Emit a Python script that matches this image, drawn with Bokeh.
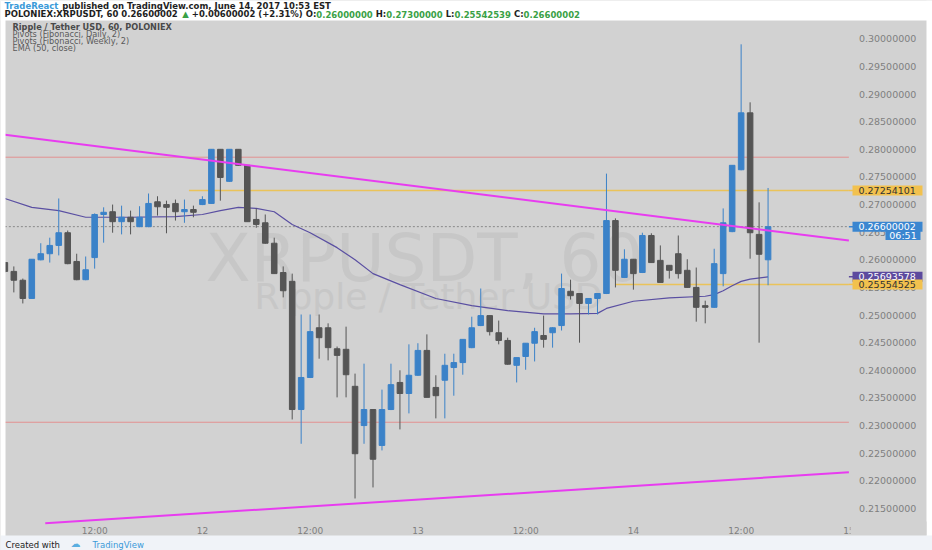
from bokeh.plotting import figure
from bokeh.models import ColumnDataSource, Label, Range1d, BoxAnnotation
from bokeh.embed import file_html
from bokeh.resources import INLINE
from bokeh.core.properties import value

# ---------------- data (hours relative to 12 June 00:00) ----------------
hours = list(range(-22, 64))
opens = [0.2595, 0.2579, 0.2563, 0.2530, 0.2600, 0.2611, 0.2626, 0.2649, 0.2597, 0.2564,
         0.2604, 0.2682, 0.2687, 0.2669, 0.2677, 0.2660, 0.2660, 0.2705, 0.2700, 0.2702,
         0.2687, 0.2691, 0.2700, 0.2702, 0.2800, 0.2742, 0.2800, 0.2771, 0.2673, 0.2667,
         0.2630, 0.2577, 0.2561, 0.2329, 0.2387, 0.2477, 0.2477, 0.2439, 0.2438, 0.2371,
         0.2300, 0.2329, 0.2264, 0.2329, 0.2378, 0.2358, 0.2391, 0.2436, 0.2369, 0.2382,
         0.2405, 0.2414, 0.2441, 0.2481, 0.2499, 0.2468, 0.2454, 0.2409, 0.2425, 0.2449,
         0.2463, 0.2468, 0.2481, 0.2543, 0.2539, 0.2521, 0.2530, 0.2539, 0.2671, 0.2568,
         0.2601, 0.2577, 0.2644, 0.2599, 0.2590, 0.2611, 0.2581, 0.2550, 0.2517, 0.2514,
         0.2575, 0.2651, 0.2763, 0.2866, 0.2646, 0.2600]
highs = [0.2595, 0.2588, 0.2566, 0.2601, 0.2630, 0.2640, 0.2711, 0.2653, 0.2611, 0.2606,
         0.2684, 0.2695, 0.2700, 0.2698, 0.2689, 0.2697, 0.2720, 0.2715, 0.2707, 0.2709,
         0.2709, 0.2698, 0.2715, 0.2800, 0.2800, 0.2800, 0.2800, 0.2771, 0.2693, 0.2682,
         0.2640, 0.2588, 0.2575, 0.2501, 0.2501, 0.2501, 0.2485, 0.2443, 0.2479, 0.2394,
         0.2412, 0.2329, 0.2365, 0.2412, 0.2400, 0.2447, 0.2449, 0.2465, 0.2391, 0.2430,
         0.2430, 0.2456, 0.2497, 0.2548, 0.2499, 0.2490, 0.2459, 0.2423, 0.2449, 0.2477,
         0.2499, 0.2478, 0.2575, 0.2564, 0.2539, 0.2530, 0.2539, 0.2756, 0.2675, 0.2619,
         0.2601, 0.2649, 0.2648, 0.2626, 0.2590, 0.2644, 0.2601, 0.2586, 0.2526, 0.2620,
         0.2693, 0.2771, 0.2990, 0.2885, 0.2704, 0.2730]
lows = [0.2577, 0.2541, 0.2521, 0.2530, 0.2599, 0.2595, 0.2608, 0.2592, 0.2563, 0.2563,
        0.2584, 0.2631, 0.2649, 0.2646, 0.2646, 0.2659, 0.2659, 0.2680, 0.2648, 0.2671,
        0.2667, 0.2677, 0.2699, 0.2701, 0.2707, 0.2741, 0.2770, 0.2669, 0.2658, 0.2629,
        0.2575, 0.2532, 0.2311, 0.2267, 0.2386, 0.2421, 0.2418, 0.2351, 0.2351, 0.2168,
        0.2267, 0.2188, 0.2255, 0.2328, 0.2293, 0.2322, 0.2390, 0.2351, 0.2313, 0.2313,
        0.2354, 0.2392, 0.2440, 0.2480, 0.2463, 0.2447, 0.2410, 0.2378, 0.2401, 0.2416,
        0.2441, 0.2441, 0.2472, 0.2528, 0.2450, 0.2501, 0.2501, 0.2538, 0.2550, 0.2567,
        0.2546, 0.2576, 0.2595, 0.2559, 0.2566, 0.2566, 0.2549, 0.2488, 0.2485, 0.2513,
        0.2552, 0.2650, 0.2762, 0.2602, 0.2450, 0.2554]
closes = [0.2579, 0.2563, 0.2530, 0.2601, 0.2611, 0.2626, 0.2649, 0.2593, 0.2564, 0.2582,
          0.2682, 0.2686, 0.2669, 0.2677, 0.2669, 0.2677, 0.2702, 0.2696, 0.2695, 0.2687,
          0.2691, 0.2686, 0.2709, 0.2800, 0.2749, 0.2800, 0.2771, 0.2669, 0.2664, 0.2630,
          0.2575, 0.2544, 0.2329, 0.2387, 0.2470, 0.2459, 0.2441, 0.2427, 0.2392, 0.2249,
          0.2329, 0.2239, 0.2329, 0.2374, 0.2358, 0.2391, 0.2436, 0.2351, 0.2354, 0.2409,
          0.2414, 0.2456, 0.2477, 0.2499, 0.2470, 0.2454, 0.2411, 0.2423, 0.2449, 0.2470,
          0.2456, 0.2477, 0.2548, 0.2535, 0.2521, 0.2530, 0.2539, 0.2671, 0.2581, 0.2601,
          0.2575, 0.2644, 0.2595, 0.2559, 0.2581, 0.2575, 0.2550, 0.2514, 0.2514, 0.2593,
          0.2667, 0.2771, 0.2866, 0.2649, 0.2610, 0.2660]

ema_hours = [-22, -19, -16, -13, -8, -3, 0, 2, 4, 6, 8, 10, 12, 15, 17, 19, 22, 26, 30,
             34, 38, 41, 44, 45, 48, 52, 56, 57, 58, 59, 60, 61, 63]
ema_vals = [0.2711, 0.2695, 0.2689, 0.2677, 0.2677, 0.2678, 0.2682, 0.2689, 0.2695, 0.2693,
            0.2687, 0.2664, 0.2649, 0.2622, 0.2600, 0.2575, 0.2555, 0.2530, 0.2517, 0.2508,
            0.2502, 0.2502, 0.2503, 0.2512, 0.2525, 0.2531, 0.2534, 0.2537, 0.2544, 0.2553,
            0.2561, 0.2565, 0.2569]

trend_upper_h = [-22.0, 72.0]
trend_upper_p = [0.28262, 0.26349]
trend_lower_h = [-17.5, 72.0]
trend_lower_p = [0.21233, 0.22153]

red_levels = [0.27857, 0.23060]
pivot_levels = [0.27254101, 0.25554525]
pivot_start = [-1.5, 46.0]
last_price = 0.26600002
ema_last = 0.25693578
countdown = "06:51"

price_ticks = [0.215, 0.220, 0.225, 0.230, 0.235, 0.240, 0.245, 0.250, 0.255,
               0.260, 0.265, 0.270, 0.275, 0.280, 0.285, 0.290, 0.295, 0.300]
time_ticks = [-12, 0, 12, 24, 36, 48, 60, 72]
time_labels = ["12:00", "12", "12:00", "13", "12:00", "14", "12:00", "15"]

# ---------------- page geometry (px) ----------------
W, H = 932, 550
PX_PER_H = 8.979        # px per hour
X_OF_H0 = 201.9         # page x of hour 0
PX_PER_P = 5525.0       # px per price unit
Y_OF_030 = 38.3         # page y of price 0.30
X0 = -X_OF_H0 / PX_PER_H
X1 = (W - X_OF_H0) / PX_PER_H
P_HI = 0.30 + Y_OF_030 / PX_PER_P
P_LO = 0.30 - (H - Y_OF_030) / PX_PER_P
CHART_START, CHART_END = -22.0, 72.0


def hx(ax):
    return X0 + ax / PX_PER_H


def py(ay):
    return P_HI - ay / PX_PER_P


def sy(ay):
    return H - ay


BG = "#d2d2d2"
UP = "#3b82c8"
DOWN = "#555555"
FONT = "DejaVu Sans"
GREEN = "#3aa146"
BLUE_TXT = "#3a9ad9"

BOLD_W = {' ': 0.348, '.': 0.380, ',': 0.380, ':': 0.400, '%': 1.002, '(': 0.457,
          ')': 0.457, '+': 0.838, '\u25b2': 0.769,
          'C': 0.734, 'D': 0.830, 'E': 0.683, 'H': 0.837, 'I': 0.372, 'L': 0.637,
          'N': 0.837, 'O': 0.850, 'P': 0.733, 'R': 0.770, 'S': 0.720, 'T': 0.682,
          'U': 0.812, 'X': 0.773, 'a': 0.675, 'c': 0.593, 'd': 0.716, 'e': 0.678,
          't': 0.478, 'r': 0.493}
for dgt in "0123456789":
    BOLD_W[dgt] = 0.696


def bold_width(s, size):
    return sum(BOLD_W.get(ch, 0.68) for ch in s) * size


colors = [UP if c >= o else DOWN for o, c in zip(opens, closes)]
src = ColumnDataSource(dict(
    h=hours, low=lows, high=highs,
    top=[max(o, c) for o, c in zip(opens, closes)],
    bottom=[min(o, c) for o, c in zip(opens, closes)],
    color=colors))

p = figure(width=W, height=H, x_range=Range1d(X0, X1), y_range=Range1d(P_LO, P_HI),
           output_backend="svg", toolbar_location=None,
           x_axis_location=None, y_axis_location=None,
           min_border=0, min_border_left=0, min_border_right=0,
           min_border_top=0, min_border_bottom=0)
p.background_fill_color = BG
p.border_fill_color = BG
p.outline_line_color = None
p.grid.visible = False

# watermark
p.add_layout(Label(x=424, y=sy(258), x_units="screen", y_units="screen", text="XRPUSDT, 60",
                   text_font=FONT, text_font_size="66px", text_color="#c7c7c7",
                   text_align="center", text_baseline="middle", level="underlay"))
p.add_layout(Label(x=428, y=sy(296), x_units="screen", y_units="screen",
                   text="Ripple / Tether USD",
                   text_font=FONT, text_font_size="36px", text_color="#c7c7c7",
                   text_align="center", text_baseline="middle", level="underlay"))

# horizontal levels
n_red = len(red_levels)
p.segment(x0=[CHART_START] * n_red, x1=[CHART_END] * n_red, y0=red_levels, y1=red_levels,
          line_color="#e39090", line_width=1)
p.segment(x0=pivot_start, x1=[CHART_END] * len(pivot_levels), y0=pivot_levels,
          y1=pivot_levels, line_color="#eac35a", line_width=1.5)
p.segment(x0=[CHART_START], x1=[CHART_END], y0=[last_price], y1=[last_price],
          line_color="#8a8a8a", line_width=1, line_dash="2 2")

# EMA
p.line(ema_hours, ema_vals, line_color="#5a4fa2", line_width=1.2)

# candles
p.segment(x0="h", y0="low", x1="h", y1="high", line_color="color", line_width=1, source=src)
p.vbar(x="h", width=0.62, top="top", bottom="bottom", fill_color="color",
       line_color="color", line_width=1, source=src)

# trend lines
p.line(trend_upper_h, trend_upper_p, line_color="#e83cf0", line_width=2)
p.line(trend_lower_h, trend_lower_p, line_color="#e83cf0", line_width=2)

# price scale labels
p.text(x=[CHART_END] * len(price_ticks), y=price_ticks,
       text=["%.8f" % t for t in price_ticks], x_offset=10,
       text_font=value(FONT), text_font_size=value("9.5px"), text_color="#7f7f7f",
       text_align="left", text_baseline="middle")

# time scale labels
p.text(x=time_ticks, y=[P_LO] * len(time_ticks), text=time_labels, y_offset=-20,
       text_font=value(FONT), text_font_size=value("9px"), text_color="#7f7f7f",
       text_align="center", text_baseline="middle")

# price badges on the price scale
badge_vals = [pivot_levels[0], last_price, ema_last, pivot_levels[1]]
badge_fill = ["#f2c14e", "#3a86d0", "#5c4a9e", "#f2c14e"]
badge_text = ["#333333", "#ffffff", "#ffffff", "#333333"]
p.segment(x0=[CHART_END] * 4, x1=[hx(853)] * 4, y0=badge_vals, y1=badge_vals,
          line_color=badge_fill, line_width=1.5)
p.rect(x=[hx(887)] * 4, y=badge_vals, width=70, height=10, width_units="screen",
       height_units="screen", fill_color=badge_fill, line_color=None)
p.text(x=[hx(858)] * 4, y=badge_vals, text=["%.8f" % v for v in badge_vals],
       text_font=value(FONT), text_font_size=value("9.5px"), text_color=badge_text,
       text_align="left", text_baseline="middle")
p.rect(x=[hx(902.5)], y=[py(234.5)], width=35, height=10, width_units="screen",
       height_units="screen", fill_color="#3a86d0", line_color=None)
p.text(x=[hx(902.5)], y=[py(234.5)], text=[countdown], text_font=value(FONT),
       text_font_size=value("9.5px"), text_color="#ffffff", text_align="center",
       text_baseline="middle")

# page frame: white header / side strips, light footer, cut of the last time label
p.add_layout(BoxAnnotation(bottom=sy(20), bottom_units="screen", fill_color="white",
                           fill_alpha=1.0, line_color=None))
p.add_layout(BoxAnnotation(right=5, right_units="screen", fill_color="white",
                           fill_alpha=1.0, line_color=None))
p.add_layout(BoxAnnotation(left=926, left_units="screen", fill_color="white",
                           fill_alpha=1.0, line_color=None))
p.add_layout(BoxAnnotation(left=850, left_units="screen", right=926, right_units="screen",
                           top=sy(521), top_units="screen", bottom=sy(535),
                           bottom_units="screen", fill_color=BG, fill_alpha=1.0,
                           line_color=None))
p.add_layout(BoxAnnotation(top=sy(535), top_units="screen", fill_color="#f0f3f8",
                           fill_alpha=1.0, line_color=None))

# legend text
leg = [("Ripple / Tether USD, 60, POLONIEX", "bold", "#4a4a4a"),
       ("Pivots (Fibonacci, Daily, 2)", "normal", "#5a5a5a"),
       ("Pivots (Fibonacci, Weekly, 2)", "normal", "#5a5a5a"),
       ("EMA (50, close)", "normal", "#5a5a5a")]
for k, (t, w, c) in enumerate(leg):
    p.add_layout(Label(x=12, y=sy(26 + 7.3 * k), x_units="screen", y_units="screen", text=t,
                       text_font=FONT, text_font_size="8.2px",
                       text_font_style=w, text_color=c, text_baseline="middle"))

# header lines (bold, mixed colours, laid out left to right)
HS = 8.5
line1 = [("TradeReact", BLUE_TXT),
         (" published on TradingView.com, June 14, 2017 10:53 EST", "#1e1e1e")]
line2 = [("POLONIEX:XRPUSDT, 60 0.26600002 ", "#1e1e1e"), ("\u25b2", GREEN),
         (" +0.00600002 (+2.31%) O:", "#1e1e1e"), ("0.26000000", GREEN),
         (" H:", "#1e1e1e"), ("0.27300000", GREEN), (" L:", "#1e1e1e"),
         ("0.25542539", GREEN), (" C:", "#1e1e1e"), ("0.26600002", GREEN)]
for row_y, segs in ((5, line1), (13.5, line2)):
    xx = 4.0
    for t, c in segs:
        lead = len(t) - len(t.lstrip(" "))
        xx += bold_width(" " * lead, HS)
        body = t.strip(" ")
        p.add_layout(Label(x=xx, y=sy(row_y), x_units="screen", y_units="screen", text=body,
                           text_font=FONT, text_font_size="%.1fpx" % HS,
                           text_font_style="bold", text_color=c, text_baseline="middle"))
        xx += bold_width(t.lstrip(" "), HS)

# footer
p.add_layout(Label(x=5, y=sy(544), x_units="screen", y_units="screen", text="Created with",
                   text_font=FONT, text_font_size="8.5px", text_color="#222222",
                   text_baseline="middle"))
p.add_layout(Label(x=70, y=sy(542.5), x_units="screen", y_units="screen", text="\u2601",
                   text_font=FONT, text_font_size="10px", text_color="#5aaee0",
                   text_baseline="middle"))
p.add_layout(Label(x=92, y=sy(544), x_units="screen", y_units="screen", text="TradingView",
                   text_font=FONT, text_font_size="8.5px", text_color=BLUE_TXT,
                   text_baseline="middle"))

open("out.html", "w").write(file_html(p, INLINE))
